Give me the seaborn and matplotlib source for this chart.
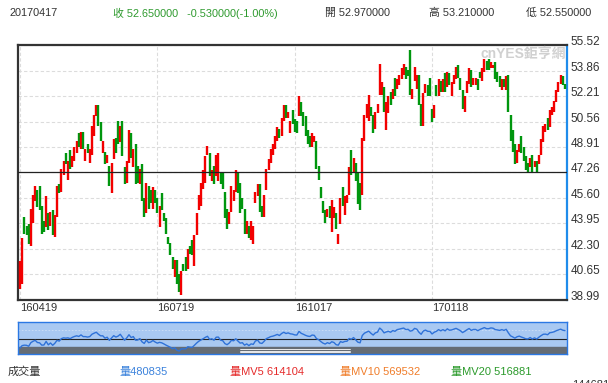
import numpy as np
import matplotlib
matplotlib.use('Agg')
import matplotlib.pyplot as plt
import seaborn as sns

sns.set_theme(style='white')
plt.rcParams['font.family'] = ['Liberation Sans', 'Noto Sans CJK TC', 'DejaVu Sans']

# Daily open / close (160419 .. 170417)
opens = [
    39.7, 40.0, 44.4, 43.8, 43.9, 42.5, 44.0, 45.4, 46.1, 46.4,
    45.1, 44.1, 43.7, 44.6, 43.8, 44.8, 43.1, 44.4, 46.5, 46.0,
    47.1, 48.5, 46.8, 48.7, 47.6, 48.0, 48.5, 49.8, 48.8, 49.9,
    48.0, 49.1, 47.9, 48.4, 49.6, 50.9, 51.6, 50.5, 48.5, 48.6,
    47.9, 47.7, 45.9, 48.1, 49.5, 50.6, 49.2, 50.6, 47.6, 46.6,
    47.9, 49.8, 47.6, 49.1, 47.7, 46.5, 47.8, 45.6, 44.6, 46.4,
    46.1, 44.9, 46.1, 45.6, 43.7, 45.9, 44.6, 44.3, 43.1, 42.7,
    41.8, 40.5, 41.6, 40.7, 39.3, 41.3, 41.8, 41.0, 42.5, 42.9,
    41.2, 43.2, 44.8, 45.1, 46.2, 46.6, 48.4, 48.5, 46.7, 47.7,
    47.0, 46.7, 47.2, 47.3, 46.0, 44.9, 43.9, 44.7, 45.4, 46.0,
    47.3, 46.6, 45.6, 44.9, 43.3, 43.8, 42.9, 42.6, 45.3, 45.7,
    46.5, 45.1, 44.4, 46.1, 47.4, 47.9, 48.4, 48.8, 49.3, 50.1,
    49.6, 50.6, 51.6, 50.8, 49.8, 51.3, 50.7, 50.6, 50.9, 51.8,
    51.2, 50.9, 50.0, 49.6, 48.9, 49.2, 49.3, 47.7, 46.3, 45.4,
    44.8, 44.4, 45.1, 43.4, 44.3, 44.6, 42.6, 43.9, 46.3, 44.5,
    45.3, 45.8, 48.7, 47.2, 47.9, 47.2, 46.6, 45.8, 49.3, 50.8,
    50.6, 51.5, 51.0, 50.1, 51.1, 52.3, 52.3, 52.8, 50.0, 51.1,
    52.5, 52.0, 53.4, 52.7, 52.9, 53.3, 53.6, 54.1, 53.9, 55.2,
    52.0, 53.2, 52.7, 53.6, 51.7, 50.3, 52.4, 52.9, 53.4, 51.4,
    50.8, 52.9, 52.2, 53.2, 52.5, 53.7, 52.8, 53.7, 52.2, 53.0,
    53.3, 54.2, 53.4, 52.6, 51.2, 52.4, 53.0, 53.9, 52.9, 52.9,
    53.3, 53.8, 53.2, 53.8, 54.5, 54.6, 54.0, 54.0, 54.4, 53.8,
    53.5, 52.6, 53.3, 52.6, 53.6, 51.0, 50.0, 49.1, 47.9, 48.6,
    49.6, 48.9, 48.3, 47.9, 47.6, 48.4, 47.6, 48.0, 47.8, 48.4,
    49.2, 49.9, 50.8, 50.2, 51.0, 51.2, 51.8, 52.5, 53.0, 53.5,
    52.97,
]
closes = [
    41.5, 43.0, 43.3, 43.2, 42.6, 44.9, 45.8, 46.4, 45.0, 44.8,
    43.3, 43.4, 45.7, 43.5, 44.7, 43.2, 44.5, 46.4, 45.9, 47.5,
    48.0, 47.8, 48.0, 47.5, 48.3, 48.9, 49.3, 48.9, 49.9, 48.8,
    48.8, 48.5, 48.8, 50.3, 51.0, 51.6, 50.3, 49.3, 49.3, 47.8,
    48.4, 46.4, 47.9, 49.4, 48.5, 49.1, 50.3, 48.3, 46.5, 48.0,
    50.0, 48.2, 48.8, 46.5, 46.6, 47.5, 45.4, 44.4, 46.6, 44.9,
    45.3, 46.3, 45.3, 44.6, 45.1, 44.8, 44.1, 43.3, 42.6, 41.9,
    41.0, 41.6, 40.0, 39.5, 40.9, 40.9, 40.9, 42.3, 42.0, 41.9,
    43.2, 44.6, 45.8, 46.6, 47.4, 48.3, 49.0, 47.0, 47.4, 46.5,
    48.4, 48.5, 46.5, 46.2, 44.3, 43.6, 44.7, 46.4, 46.1, 47.4,
    45.9, 44.6, 44.9, 43.3, 44.1, 43.0, 44.1, 43.8, 46.0, 46.5,
    44.7, 44.4, 45.8, 47.5, 48.1, 48.8, 49.1, 49.6, 50.2, 49.5,
    50.8, 51.6, 50.8, 51.2, 50.6, 50.4, 49.9, 49.8, 52.2, 50.9,
    50.3, 49.6, 49.1, 48.9, 49.8, 49.6, 47.5, 46.8, 45.6, 44.6,
    44.0, 44.9, 44.3, 45.5, 45.0, 43.6, 43.3, 45.6, 45.1, 45.7,
    45.8, 47.6, 47.1, 48.2, 46.7, 45.2, 44.8, 49.5, 51.0, 51.7,
    52.3, 50.9, 49.8, 51.2, 51.7, 54.3, 53.1, 51.2, 51.8, 52.2,
    51.6, 52.7, 52.2, 53.3, 53.6, 54.0, 54.3, 53.3, 53.5, 52.3,
    52.7, 54.1, 53.6, 51.6, 50.3, 52.4, 53.0, 52.2, 52.2, 50.5,
    51.6, 52.2, 53.3, 52.5, 53.3, 52.5, 53.8, 52.9, 53.1, 53.6,
    54.1, 53.4, 52.6, 51.4, 52.2, 53.2, 54.0, 52.8, 53.4, 53.4,
    52.6, 53.4, 54.0, 54.6, 53.9, 53.9, 54.4, 54.2, 53.3, 53.1,
    52.8, 53.3, 52.8, 53.5, 51.2, 49.3, 48.6, 47.8, 48.7, 49.1,
    48.5, 48.0, 47.4, 47.3, 48.2, 47.2, 48.0, 47.2, 48.4, 49.4,
    50.3, 50.4, 50.0, 51.3, 51.5, 51.9, 52.6, 53.1, 53.6, 52.9,
    52.65,
]

date_ticks = [0, 63, 126, 189]
date_labels = ['160419', '160719', '161017', '170118']
price_ticks = [38.99, 40.65, 42.30, 43.95, 45.60, 47.26,
               48.91, 50.56, 52.21, 53.86, 55.52]
ref_price = 47.26

last_date = '20170417'
last_close, last_change, last_pct = 52.65, -0.53, -1.00
last_open, last_high, last_low = 52.97, 53.21, 52.55

vol_labels = ['量480835', '量MV5 614104', '量MV10 569532', '量MV20 516881']
vol_colors = ['#3b82dc', '#e52b2b', '#f07d2a', '#2b9a2b']

UP, DOWN = '#f20000', '#00960e'
W, H = 608, 383


def box(l, t, r, b):
    return [l / W, 1 - b / H, (r - l) / W, (b - t) / H]


fig = plt.figure(figsize=(W / 100, H / 100), dpi=100, facecolor='white')

# ---- main candle panel ----
ax = fig.add_axes(box(18, 45, 567, 300))
x = np.arange(len(closes))
o = np.array(opens)
c = np.array(closes)
cols = np.where(c >= o, UP, DOWN)
ax.vlines(x, np.minimum(o, c), np.maximum(o, c), colors=cols,
          linewidth=1.7, zorder=3)
ax.axhline(ref_price, color='#222222', linewidth=0.9, zorder=4)

ax.set_xlim(-0.9, len(closes) - 0.1)
ax.set_ylim(price_ticks[0], price_ticks[-1])
ax.set_yticks(price_ticks)
ax.set_yticklabels([f'{v:.2f}' for v in price_ticks])
ax.yaxis.tick_right()
ax.set_xticks(date_ticks)
ax.set_xticklabels(date_labels, ha='left')
ax.tick_params(axis='y', length=0, pad=2.5, labelsize=8.5, labelcolor='#333333')
ax.tick_params(axis='x', length=0, pad=2.5, labelsize=8, labelcolor='#333333')
for lab in ax.get_yticklabels():
    lab.set_va('baseline')
ax.grid(True, color='#dcdcdc', linestyle=(0, (3, 2)), linewidth=0.8)
ax.set_axisbelow(True)
for side in ['top', 'left', 'bottom']:
    ax.spines[side].set_color('#333333')
    ax.spines[side].set_linewidth(1.6)
ax.spines['right'].set_color('#1f8ceb')
ax.spines['right'].set_linewidth(1.6)

fig.text(566 / W, 1 - 54 / H, 'cnYES鉅亨網', ha='right', va='center',
         color='#d0d0d0', fontsize=10, fontweight='bold')

# ---- header ----
hy = 1 - 13 / H
fig.text(9 / W, hy, last_date, fontsize=7.8, color='#333333', va='center')
fig.text(113 / W, hy,
         f'收 {last_close:.6f}   {last_change:.6f}({last_pct:.2f}%)',
         fontsize=7.8, color='#2e9a2e', va='center')
fig.text(325 / W, hy, f'開 {last_open:.6f}', fontsize=7.8, color='#333333', va='center')
fig.text(429 / W, hy, f'高 {last_high:.6f}', fontsize=7.8, color='#333333', va='center')
fig.text(526 / W, hy, f'低 {last_low:.6f}', fontsize=7.8, color='#333333', va='center')

# ---- navigator ----
nav = fig.add_axes(box(18, 322, 567, 354))
nav.set_facecolor('#a9c9f2')
nav.set_xlim(-0.9, len(closes) - 0.1)
nav.set_ylim(37.6, 58.2)
nav.axhspan(37.6, 42.1, color='#656c74', zorder=1)
nav.axhline(53.0, color='#cfe0f7', linestyle=(0, (2, 2)), linewidth=0.6, zorder=1)
nav.axhline(ref_price, color='#222222', linewidth=0.8, zorder=2)
sns.lineplot(x=x, y=closes, ax=nav, color='#2f72d8', linewidth=1.0, zorder=3)
for fy in [0.05, 0.10, 0.15]:
    nav.plot([0.404, 0.605], [fy, fy], transform=nav.transAxes,
             color='white', linewidth=0.6, zorder=4)
nav.set_xticks([])
nav.set_yticks([])
nav.set_xlabel('')
nav.set_ylabel('')
for s in nav.spines.values():
    s.set_color('#2b78e4')
    s.set_linewidth(1.0)

# ---- volume legend row ----
ly = 1 - 372 / H
fig.text(8 / W, ly, '成交量', fontsize=8, color='#333333', va='center')
for xp, lab, col in zip([119, 230, 340, 451], vol_labels, vol_colors):
    fig.text(xp / W, ly, lab, fontsize=8, color=col, va='center')
fig.text(572 / W, 1 - 380 / H, '1446811', fontsize=8, color='#333333', va='top')

fig.savefig('out.png', dpi=100, facecolor='white')
